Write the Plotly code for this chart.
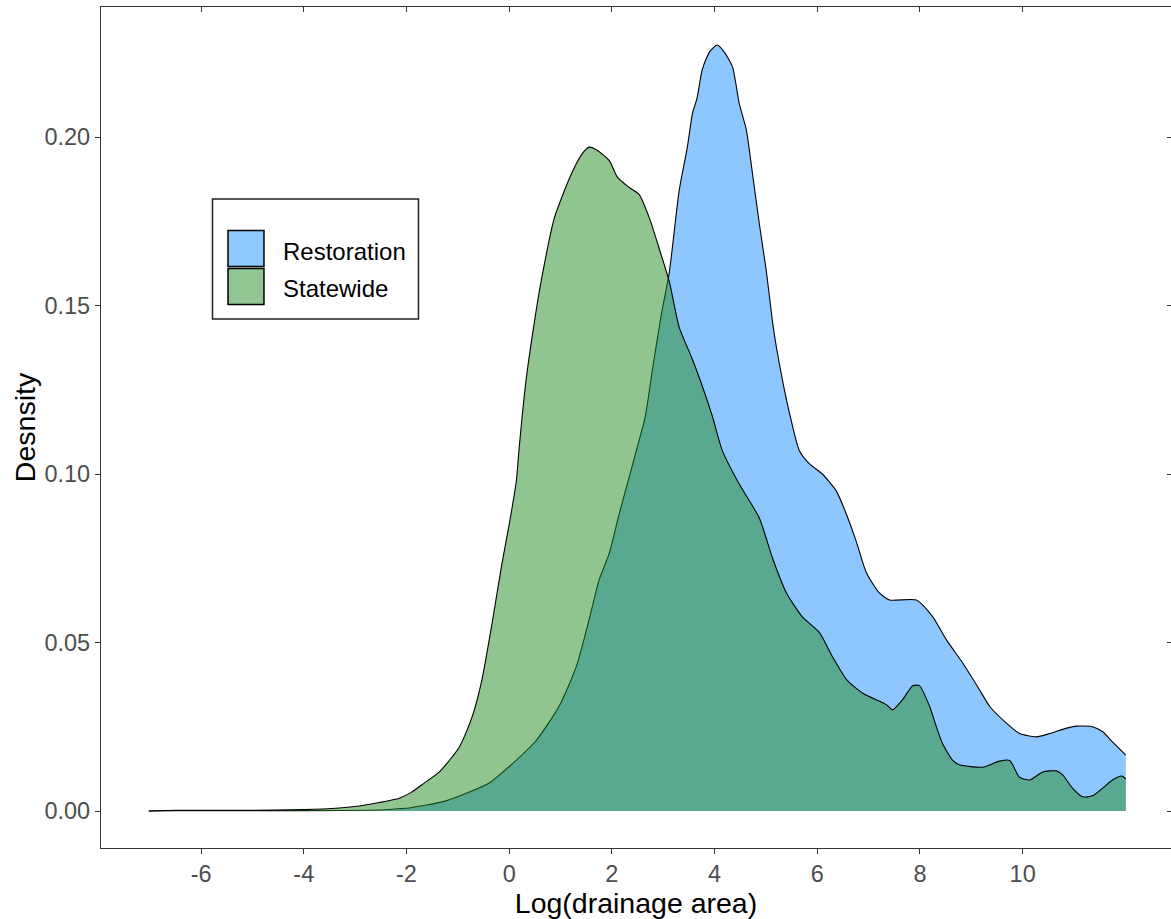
import plotly.graph_objects as go

# ---- data ----
rest_x = [-7.02, -6.49, -4.0, -2.53, -2.14, -1.95, -1.23, -0.39, 0.06, 0.53, 0.97, 1.31, 1.56, 1.75,
          1.95, 2.14, 2.30, 2.46, 2.65, 2.79, 2.96, 3.12, 3.31, 3.47, 3.57, 3.66, 3.76, 3.90, 4.05,
          4.19, 4.35, 4.48, 4.62, 4.74, 4.87, 5.01, 5.13, 5.20, 5.32, 5.46, 5.65, 5.85, 6.10, 6.37,
          6.57, 6.76, 6.96, 7.21, 7.41, 7.93, 8.25, 8.52, 8.83, 9.16, 9.36, 9.69, 9.94, 10.27,
          10.53, 10.86, 11.05, 11.36, 11.56, 11.75, 12.01]
rest_y = [0.0, 0.0001, 0.0001, 0.0003, 0.0007, 0.0009, 0.003, 0.0083, 0.014, 0.021, 0.031, 0.043,
          0.057, 0.0685, 0.0765, 0.088, 0.097, 0.106, 0.117, 0.131, 0.147, 0.160, 0.184, 0.197,
          0.207, 0.2116, 0.220, 0.2252, 0.2273, 0.2252, 0.2208, 0.210, 0.202, 0.189, 0.1745, 0.160,
          0.145, 0.138, 0.128, 0.118, 0.107, 0.103, 0.100, 0.095, 0.088, 0.080, 0.0706, 0.0647,
          0.0626, 0.0626, 0.0576, 0.0507, 0.044, 0.036, 0.031, 0.026, 0.023, 0.022, 0.023, 0.0246,
          0.0252, 0.025, 0.0235, 0.0205, 0.0166]

state_x = [-7.02, -6.49, -5.07, -4.0, -3.31, -2.92, -2.53, -2.14, -1.90, -1.70, -1.36, -0.97, -0.72,
           -0.53, -0.33, -0.14, 0.0, 0.14, 0.19, 0.33, 0.49, 0.62, 0.88, 1.21, 1.42, 1.56, 1.72, 1.95,
           2.11, 2.34, 2.53, 2.73, 2.92, 3.12, 3.31, 3.55, 3.74, 3.96, 4.15, 4.48, 4.87, 5.13, 5.40,
           5.71, 6.04, 6.30, 6.57, 6.88, 7.35, 7.47, 7.66, 7.86, 7.99, 8.19, 8.32, 8.44, 8.64, 8.77,
           9.22, 9.55, 9.75, 9.94, 10.14, 10.39, 10.66, 10.78, 10.97, 11.17, 11.36, 11.56, 11.75,
           11.93, 12.01]
state_y = [0.0, 0.0002, 0.0002, 0.0004, 0.0009, 0.0015, 0.0025, 0.0038, 0.0056, 0.0078, 0.0116, 0.019,
           0.028, 0.039, 0.056, 0.0735, 0.085, 0.098, 0.107, 0.128, 0.145, 0.157, 0.176, 0.189,
           0.195, 0.197, 0.196, 0.193, 0.188, 0.185, 0.183, 0.176, 0.167, 0.157, 0.1436, 0.1347,
           0.127, 0.117, 0.107, 0.097, 0.087, 0.075, 0.0647, 0.0576, 0.053, 0.0457, 0.039, 0.035,
           0.0315, 0.030, 0.033, 0.0372, 0.0372, 0.031, 0.025, 0.020, 0.015, 0.0137, 0.013, 0.0148,
           0.015, 0.010, 0.0092, 0.0116, 0.0119, 0.0107, 0.0068, 0.0042, 0.0045, 0.0068, 0.0092,
           0.0104, 0.0095]

x_ticks = [-6, -4, -2, 0, 2, 4, 6, 8, 10]
y_ticks = [0.00, 0.05, 0.10, 0.15, 0.20]
y_tick_text = ["0.00", "0.05", "0.10", "0.15", "0.20"]
series_names = ["Restoration", "Statewide"]
fill_colors = ["rgba(30,144,255,0.5)", "rgba(34,139,34,0.5)"]
key_colors = ["#8FC8FF", "#91C591"]

X_RANGE = [-7.95, 12.89]
Y_RANGE = [-0.01098, 0.23858]
FONT = "Liberation Sans, Arial, sans-serif"
TICK_GREY = "#4D4D4D"
AX = "#333333"

fig = go.Figure()
for xs, ys, name, col in [(rest_x, rest_y, series_names[0], fill_colors[0]),
                          (state_x, state_y, series_names[1], fill_colors[1])]:
    fig.add_trace(go.Scatter(x=xs, y=ys, mode="lines", fill="tozeroy", fillcolor=col,
                             line=dict(color="black", width=1.1, shape="spline", smoothing=0.6),
                             name=name, showlegend=False, hoverinfo="skip"))

# invisible helper trace for secondary (mirror) axes
fig.add_trace(go.Scatter(x=[X_RANGE[0]], y=[Y_RANGE[0]], xaxis="x2", yaxis="y2", mode="markers",
                         marker=dict(opacity=0), showlegend=False, hoverinfo="skip"))

fig.update_layout(
    width=1171, height=919,
    margin=dict(l=101, r=0, t=7, b=71, autoexpand=False),
    paper_bgcolor="white", plot_bgcolor="white",
    font=dict(family=FONT, size=23.5, color=TICK_GREY),
    xaxis=dict(range=X_RANGE, tickvals=x_ticks, ticktext=[str(v) for v in x_ticks],
               automargin=False,
               showgrid=False, zeroline=False, showline=True, linecolor=AX, linewidth=1.2,
               ticks="outside", ticklen=5, tickcolor=AX, tickwidth=1.2,
               tickfont=dict(family=FONT, size=23.5, color=TICK_GREY),
               title=dict(text="Log(drainage area)", standoff=4,
                          font=dict(family=FONT, size=28.5, color="black"))),
    yaxis=dict(range=Y_RANGE, tickvals=y_ticks, ticktext=y_tick_text,
               automargin=False,
               showgrid=False, zeroline=False, showline=True, linecolor=AX, linewidth=1.2,
               ticks="outside", ticklen=5, tickcolor=AX, tickwidth=1.2,
               tickfont=dict(family=FONT, size=23.5, color=TICK_GREY),
               title=dict(text="Desnsity", standoff=0,
                          font=dict(family=FONT, size=28.5, color="black"))),
    xaxis2=dict(range=X_RANGE, overlaying="x", side="top", anchor="y2", tickvals=x_ticks,
                automargin=False,
                showticklabels=False, showgrid=False, zeroline=False, showline=True,
                linecolor=AX, linewidth=1.2, ticks="inside", ticklen=5,
                tickcolor=AX, tickwidth=1.2),
    yaxis2=dict(range=Y_RANGE, overlaying="y", side="right", anchor="x2", tickvals=y_ticks,
                automargin=False,
                showticklabels=False, showgrid=False, zeroline=False, showline=False,
                ticks="inside", ticklen=4, tickcolor=AX, tickwidth=1.2),
)

# legend drawn as box + keys + labels (paper coordinates)
fig.add_shape(type="rect", xref="paper", yref="paper", x0=0.1042, x1=0.2967, y0=0.629, y1=0.7717,
              line=dict(color="#222222", width=1.5), fillcolor="white", layer="above")
key_y = [(0.6914, 0.7342), (0.6463, 0.6891)]
text_y = [0.709, 0.6647]
for i in range(2):
    fig.add_shape(type="rect", xref="paper", yref="paper", x0=0.1187, x1=0.1523,
                  y0=key_y[i][0], y1=key_y[i][1], line=dict(color="black", width=1.5),
                  fillcolor=key_colors[i], layer="above")
    fig.add_annotation(xref="paper", yref="paper", x=0.1682, y=text_y[i], text=series_names[i],
                       xanchor="left", yanchor="middle", showarrow=False,
                       font=dict(family=FONT, size=24, color="black"))

fig.write_html("out.html", config={"displayModeBar": False},
               post_script="document.body.style.margin='0';document.body.style.overflow='hidden';")
